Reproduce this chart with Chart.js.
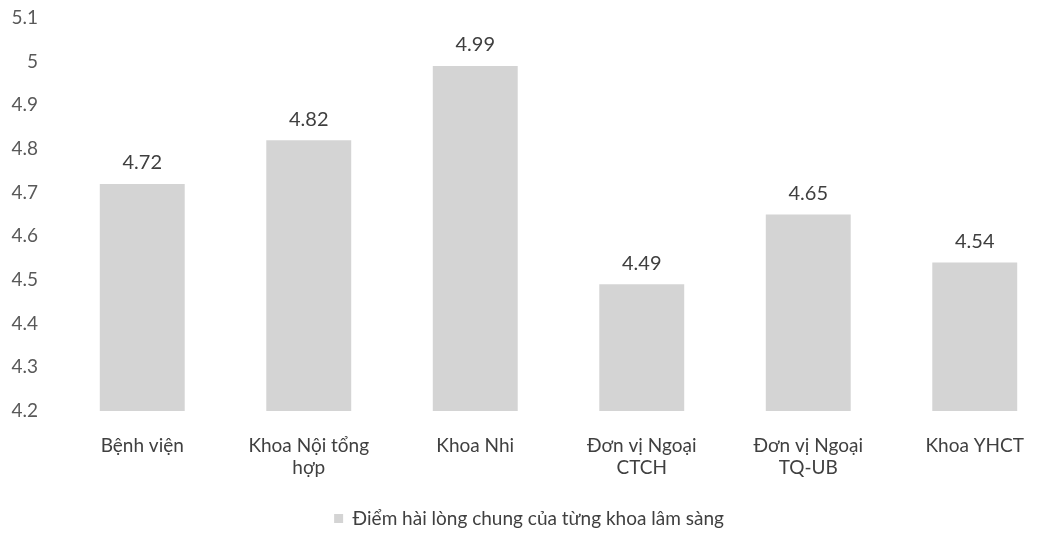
<!DOCTYPE html>
<html>
<head>
<meta charset="utf-8">
<script src="https://cdn.jsdelivr.net/npm/chart.js@4.4.1/dist/chart.umd.min.js"></script>
<style>
  html, body { margin: 0; padding: 0; background: #ffffff; overflow: hidden; }
  #wrap { width: 1060px; height: 538px; }
</style>
</head>
<body>
<div id="wrap"><canvas id="chart" width="1060" height="538"></canvas></div>
<script>
// Khoa / đơn vị
const categories = [
  'Bệnh viện',
  ['Khoa Nội tổng', 'hợp'],
  'Khoa Nhi',
  ['Đơn vị Ngoại', 'CTCH'],
  ['Đơn vị Ngoại', 'TQ-UB'],
  'Khoa YHCT'
];
// Điểm hài lòng chung
const scores = [4.72, 4.82, 4.99, 4.49, 4.65, 4.54];
const seriesName = 'Điểm hài lòng chung của từng khoa lâm sàng';
const yTickLabels = ['4.2', '4.3', '4.4', '4.5', '4.6', '4.7', '4.8', '4.9', '5', '5.1'];

const FONT = 'Lato, "Noto Sans", sans-serif';

// value labels above each bar
const valueLabels = {
  id: 'valueLabels',
  afterDatasetsDraw(chart) {
    const ctx = chart.ctx;
    const meta = chart.getDatasetMeta(0);
    ctx.save();
    ctx.font = '20px ' + FONT;
    ctx.fillStyle = '#3f3f3f';
    ctx.textAlign = 'center';
    ctx.textBaseline = 'middle';
    meta.data.forEach((bar, i) => {
      ctx.fillText(scores[i].toFixed(2), bar.x, bar.y - 21);
    });
    ctx.restore();
  }
};

new Chart(document.getElementById('chart'), {
  type: 'bar',
  data: {
    labels: categories,
    datasets: [{
      label: seriesName,
      data: scores,
      backgroundColor: '#d4d4d4',
      borderWidth: 0,
      barPercentage: 0.51,
      categoryPercentage: 1.0
    }]
  },
  options: {
    responsive: false,
    animation: false,
    layout: { padding: { top: 0, right: 2, left: 0, bottom: 0 } },
    plugins: {
      tooltip: { enabled: false },
      legend: {
        position: 'bottom',
        labels: {
          font: { family: FONT, size: 19 },
          color: '#404040',
          boxWidth: 9,
          boxHeight: 9,
          padding: 6
        }
      }
    },
    scales: {
      x: {
        grid: { display: false },
        border: { display: false },
        ticks: {
          font: { family: FONT, size: 19 },
          color: '#404040',
          padding: 15,
          maxRotation: 0,
          autoSkip: false
        },
        afterFit(scale) { scale.height = 92; }
      },
      y: {
        min: 4.2,
        max: 5.1,
        grid: { display: false },
        border: { display: false },
        ticks: {
          stepSize: 0.1,
          font: { family: FONT, size: 19 },
          color: '#595959',
          padding: 13,
          callback(value, index) { return yTickLabels[index]; }
        },
        afterFit(scale) {
          scale.width = 59;
          scale.paddingTop = 18;
          scale.paddingBottom = 0;
        }
      }
    }
  },
  plugins: [valueLabels]
});
</script>
</body>
</html>
